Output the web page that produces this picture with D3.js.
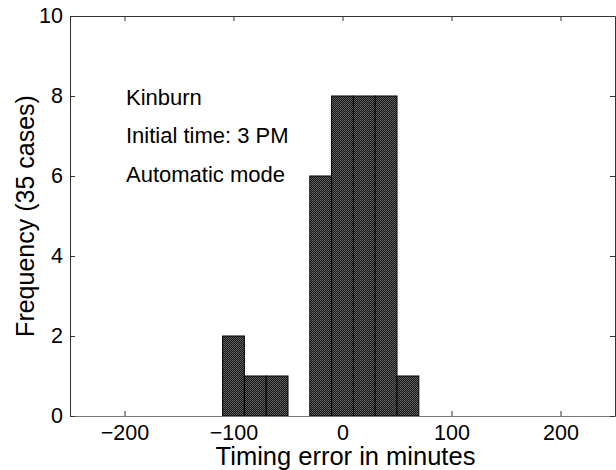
<!DOCTYPE html>
<html><head><meta charset="utf-8">
<script src="https://cdn.jsdelivr.net/npm/d3@7"></script>
<style>html,body{margin:0;padding:0;background:#fff;} svg{display:block;} text{font-family:"Liberation Sans",Arial,Helvetica,sans-serif;fill:#000;}</style>
</head><body>
<script>
const binCenters = [-100, -80, -60, -20, 0, 20, 40, 60];
const counts = [2, 1, 1, 6, 8, 8, 8, 1];
const binWidth = 20;
const xTicks = [-200, -100, 0, 100, 200];
const yTicks = [0, 2, 4, 6, 8, 10];
const notes = ["Kinburn", "Initial time: 3 PM", "Automatic mode"];
const xLabel = "Timing error in minutes";
const yLabel = "Frequency (35 cases)";

const W = 616, H = 470;
const m = {left: 70, right: 1, top: 16, bottom: 54};
const svg = d3.select("body").append("svg").attr("width", W).attr("height", H);

const defs = svg.append("defs");
const pat = defs.append("pattern").attr("id", "stip").attr("patternUnits", "userSpaceOnUse")
  .attr("width", 2).attr("height", 2);
pat.append("rect").attr("width", 2).attr("height", 2).attr("fill", "#141414");
pat.append("rect").attr("x", 0).attr("y", 0).attr("width", 1).attr("height", 1).attr("fill", "#6a6a6a");
pat.append("rect").attr("x", 1).attr("y", 1).attr("width", 1).attr("height", 1).attr("fill", "#5a5a5a");

const x = d3.scaleLinear().domain([-250, 250]).range([m.left, W - m.right]);
const y = d3.scaleLinear().domain([0, 10]).range([H - m.bottom, m.top]);

// bars
svg.append("g").selectAll("rect").data(binCenters).join("rect")
  .attr("x", d => x(d - binWidth / 2))
  .attr("width", d => x(d + binWidth / 2) - x(d - binWidth / 2))
  .attr("y", (d, i) => y(counts[i]))
  .attr("height", (d, i) => y(0) - y(counts[i]))
  .attr("fill", "url(#stip)")
  .attr("stroke", "#000").attr("stroke-width", 1);

const fs = 21.5;
// axes
const xb = svg.append("g").attr("transform", `translate(0,${y(0)})`)
  .call(d3.axisBottom(x).tickValues(xTicks).tickSizeInner(-5).tickSizeOuter(0).tickPadding(9)
    .tickFormat(d => d < 0 ? "\u2212" + Math.abs(d) : d));
const xt = svg.append("g").attr("transform", `translate(0,${y(10)})`)
  .call(d3.axisTop(x).tickValues(xTicks).tickSizeInner(-5).tickSizeOuter(0).tickFormat(""));
const yl = svg.append("g").attr("transform", `translate(${x(-250)},0)`)
  .call(d3.axisLeft(y).tickValues(yTicks).tickSizeInner(-5).tickSizeOuter(0).tickPadding(7));
const yr = svg.append("g").attr("transform", `translate(${x(250)},0)`)
  .call(d3.axisRight(y).tickValues(yTicks).tickSizeInner(-5).tickSizeOuter(0).tickFormat(""));
[xb, xt, yl, yr].forEach(g => {
  g.selectAll("path.domain").attr("stroke", "#333").attr("stroke-width", 1);
  g.selectAll("line").attr("stroke", "#333");
  g.selectAll("text").attr("font-size", fs).attr("font-family", null);
});
xb.select("path.domain").attr("stroke", "#777");

// notes
svg.append("g").selectAll("text").data(notes).join("text")
  .attr("x", 126).attr("y", (d, i) => 105 + i * 38.3)
  .attr("font-size", 22).text(d => d);

svg.append("text").attr("x", x(0) + 3).attr("y", 465).attr("text-anchor", "middle")
  .attr("font-size", 25.5).text(xLabel);
svg.append("text").attr("transform", `translate(34,${(y(0) + y(10)) / 2}) rotate(-90)`)
  .attr("text-anchor", "middle").attr("font-size", 25).text(yLabel);
</script>
</body></html>
